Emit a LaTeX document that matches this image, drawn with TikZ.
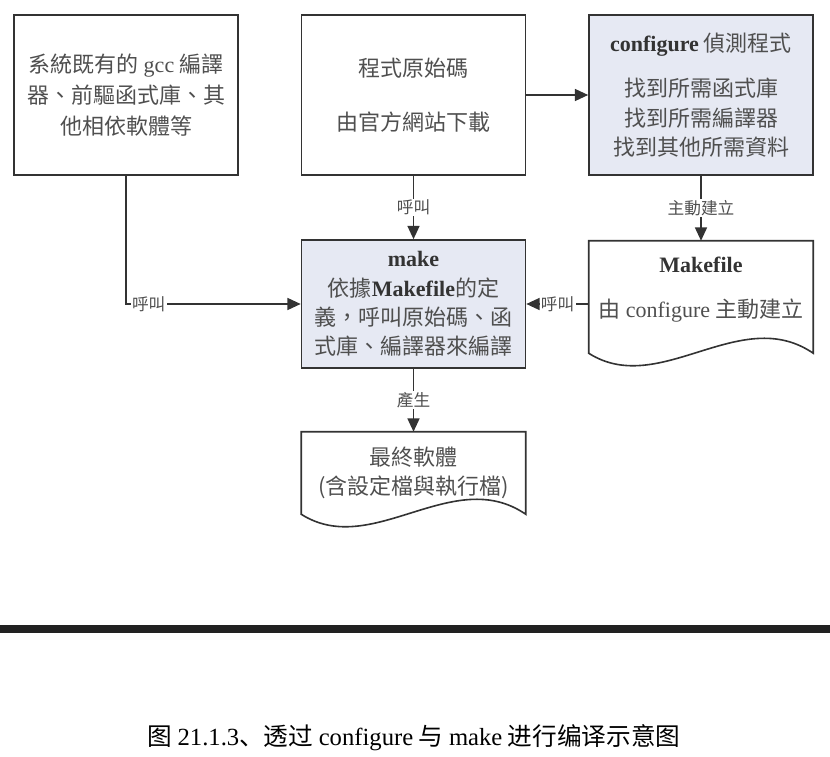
\documentclass[tikz,border=0pt]{standalone}
\usepackage{fontspec}
\setmainfont{Noto Sans CJK TC}
\newfontfamily\latinfont{Liberation Serif}
\newfontfamily\scfont{Noto Sans CJK SC}
\usetikzlibrary{arrows.meta,positioning,calc}
\definecolor{boxfill}{HTML}{E6E9F3}
\definecolor{ink}{HTML}{333333}
\definecolor{txt}{HTML}{4F4F4F}
\newcommand{\engl}[1]{{\latinfont #1}}
\newcommand{\engb}[1]{{\latinfont\bfseries\color{ink}#1}}
% wavy document outline round a node
\newcommand{\docoutline}[1]{%
  \draw[boxline] (#1.south west) -- (#1.north west) -- (#1.north east) -- (#1.south east)
    .. controls +(-73,-50) and +(71,45) .. (#1.south west) -- cycle;}

\begin{document}
\begin{tikzpicture}[
x=0.75pt,y=-0.75pt,
boxline/.style={draw=ink,line width=1.2pt},
box/.style={boxline,rectangle,minimum width=224*0.75pt,minimum height=160*0.75pt,inner sep=0pt,
  text=txt,align=center,font=\fontsize{16.5}{22}\selectfont},
hbox/.style={box,fill=boxfill},
doc/.style={rectangle,minimum width=224*0.75pt,inner sep=0pt,text=txt,align=center,
  font=\fontsize{16.5}{22}\selectfont},
edge/.style={-{Triangle[length=10pt,width=9pt]},draw=ink,line width=1.2pt},
lab/.style={fill=white,inner sep=1pt,text=txt,font=\fontsize{12.5}{14}\selectfont}
]
\useasboundingbox (0,0) rectangle (830,756);
\node[box] (sys) at (126,95) {系統既有的 \engl{gcc} 編譯\\[1.5pt]器、前驅函式庫、其\\[1.5pt]他相依軟體等};
\node[box] (src) at (413.5,95) {程式原始碼\\[18pt]由官方網站下載};
\node[hbox] (conf) at (701,95) {\engb{configure} 偵測程式\\[12pt]找到所需函式庫\\找到所需編譯器\\找到其他所需資料};
\node[hbox,minimum height=128*0.75pt] (mk) at (413.5,304)
  {\engb{make}\\依據\engb{Makefile}的定\\義，呼叫原始碼、函\\式庫、編譯器來編譯};
\node[doc,minimum height=112*0.75pt,text depth=15pt] (mf) at (701,297) {\engb{Makefile}\\[12pt]由 \engl{configure} 主動建立};
\node[doc,minimum height=82*0.75pt] (out) at (413.5,473) {最終軟體\\(含設定檔與執行檔)};
\docoutline{mf}
\docoutline{out}
\draw[edge] (src) -- (conf);
\draw[edge] (src) -- node[lab] {呼叫} (mk);
\draw[edge] (conf) -- node[lab] {主動建立} (mf);
\draw[edge] (sys.south) |- node[lab,pos=.565] {呼叫} (mk.west);
\draw[edge] (mf.west |- mk.east) -- node[lab] {呼叫} (mk.east);
\draw[edge] (mk) -- node[lab] {產生} (out);
% bar and caption
\fill[black!87] (0,625) rectangle (830,633);
\node[font=\fontsize{18.5}{20}\selectfont,text=black] (cap) at (414,738)
  {\scfont 图 \engl{21.1.3}、透过 \engl{configure} 与 \engl{make} 进行编译示意图};
\end{tikzpicture}
\end{document}
